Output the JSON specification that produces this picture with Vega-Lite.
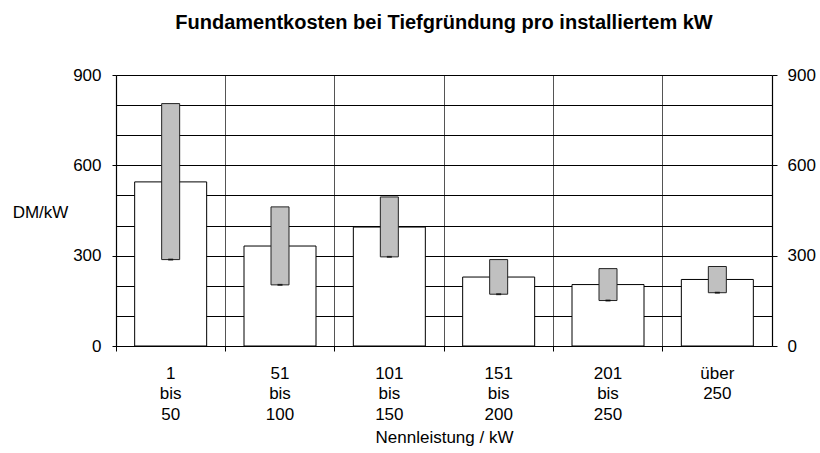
{
  "$schema": "https://vega.github.io/schema/vega-lite/v6.json",
  "autosize": "none",
  "width": 656,
  "height": 271,
  "padding": {"left": 116, "top": 75, "right": 48, "bottom": 107},
  "background": "white",
  "config": {
    "font": "Liberation Sans",
    "view": {"stroke": null},
    "axis": {"labelFont": "Liberation Sans", "titleFont": "Liberation Sans", "labelColor": "black", "titleColor": "black", "domainColor": "black", "tickColor": "black", "labelFontSize": 17, "titleFontSize": 17, "titleFontWeight": "normal"}
  },
  "title": {"text": "Fundamentkosten bei Tiefgründung pro installiertem kW", "fontSize": 20, "fontWeight": "bold", "font": "Liberation Sans", "anchor": "middle", "offset": 33, "color": "black"},
  "data": {"values": [
    {"k": "1|bis|50", "mean": 545, "low": 287, "high": 805},
    {"k": "51|bis|100", "mean": 332, "low": 203, "high": 462},
    {"k": "101|bis|150", "mean": 395, "low": 296, "high": 495},
    {"k": "151|bis|200", "mean": 229, "low": 172, "high": 287},
    {"k": "201|bis|250", "mean": 204, "low": 151, "high": 257},
    {"k": "über|250", "mean": 221, "low": 177, "high": 264}
  ]},
  "encoding": {
    "x": {"field": "k", "type": "nominal", "sort": null,
      "scale": {"paddingInner": 0, "paddingOuter": 0},
      "axis": {"title": "Nennleistung / kW", "labelAngle": 0, "labelExpr": "split(datum.label, '|')", "labelLineHeight": 20.5, "labelPadding": 14, "tickSize": 5, "bandPosition": 0, "grid": true, "gridColor": "#555", "gridWidth": 1, "domainWidth": 1.2, "titleY": 91, "titleBaseline": "middle"}}
  },
  "layer": [
    {
      "mark": {"type": "bar", "fill": "white", "stroke": "black", "strokeWidth": 1, "size": 72},
      "encoding": {
        "y": {"field": "mean", "type": "quantitative", "scale": {"domain": [0, 900], "nice": false},
          "axis": {"values": [0, 100, 200, 300, 400, 500, 600, 700, 800, 900], "labelExpr": "datum.value % 300 === 0 ? datum.label : ''", "grid": true, "gridColor": "black", "gridWidth": 1, "tickSize": 4, "labelPadding": 11, "tickOpacity": {"condition": {"test": "datum.value % 300 === 0", "value": 1}, "value": 0}, "domainWidth": 1.2, "title": "DM/kW", "titleAngle": 0, "titleX": -76, "titleY": 137, "titleAlign": "center", "titleBaseline": "middle"}}
      }
    },
    {
      "mark": {"type": "bar", "fill": "#c0c0c0", "stroke": "#222", "strokeWidth": 1, "size": 18},
      "encoding": {
        "y": {"field": "low", "type": "quantitative", "axis": null},
        "y2": {"field": "high"}
      }
    },
    {
      "mark": {"type": "tick", "color": "black", "size": 5, "thickness": 2},
      "encoding": {
        "y": {"field": "low", "type": "quantitative", "axis": {"orient": "right", "values": [0, 300, 600, 900], "grid": false, "tickSize": 5, "labelPadding": 10, "domainWidth": 1.2, "title": null}}
      }
    }
  ],
  "resolve": {"axis": {"y": "independent"}}
}
